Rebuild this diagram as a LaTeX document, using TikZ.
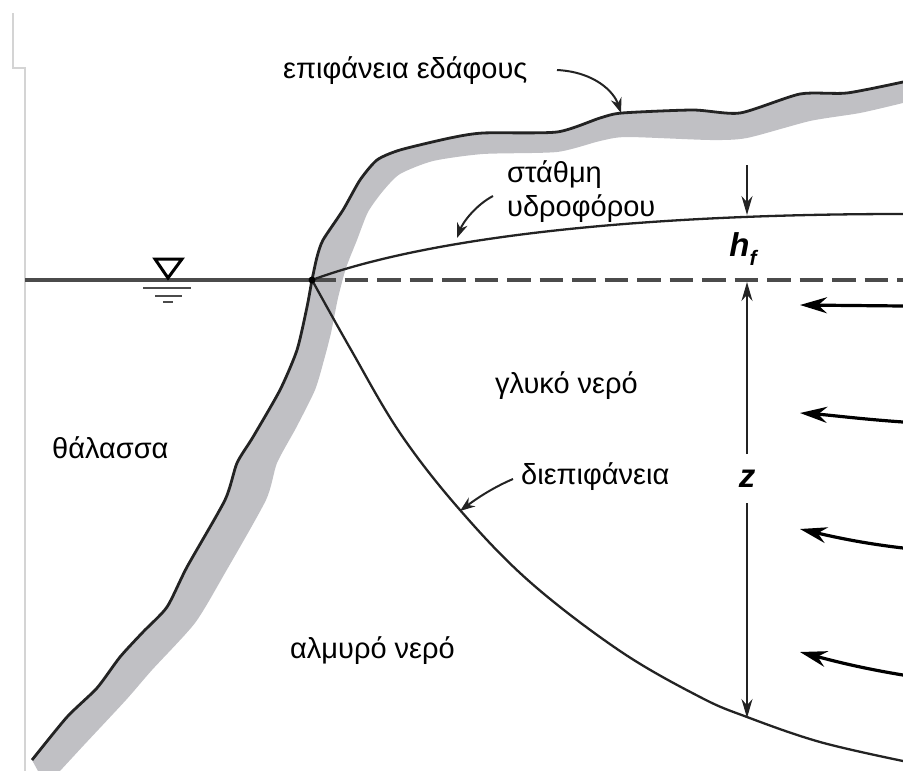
\documentclass[tikz,border=0pt]{standalone}
\usepackage{fontspec}
\setmainfont{Liberation Sans}
\usetikzlibrary{arrows.meta}
\definecolor{bandgray}{RGB}{192,192,196}
\definecolor{edgeblack}{RGB}{35,35,35}
\definecolor{seagray}{RGB}{75,75,75}
\definecolor{framegray}{RGB}{212,212,212}
\begin{document}
\begin{tikzpicture}[x=1pt,y=-1pt,
  lbl/.style={font=\fontsize{29}{34}\selectfont, inner sep=0pt, anchor=base west},
  sym/.style={font=\fontsize{33}{36}\selectfont\bfseries\itshape, inner sep=0pt},
  callout/.style={draw=edgeblack, line width=2pt, -{Stealth[length=15pt,width=11pt]}},
  flow/.style={draw=black, line width=3.2pt, -{Stealth[length=27pt,width=16pt]}},
  dim/.style={draw=edgeblack, line width=1.7pt, -{Stealth[length=19pt,width=11pt]}},
  sealine/.style={draw=seagray, line width=3.4pt},
  frameline/.style={draw=framegray, line width=1.3pt}]
\useasboundingbox (0,0) rectangle (903,771);

% thin frame remnants on the left
\draw[frameline] (13,13) -- (13,68) -- (25,68) -- (25,771);

% ground band with its dark upper edge
\fill[bandgray] plot[smooth, tension=0.4] coordinates {(32,760) (67,717) (97,688) (120,657) (143,632) (167,607) (187,567) (225,500) (237,463) (253,437) (280,390) (297,350) (307,307) (312,280) (317,257) (323,240) (343,210) (360,180) (377,160) (400,150) (450,138) (483,133) (557,132) (600,118) (622,113) (693,110) (740,113) (800,94) (847,93) (903,82)}
  -- plot[smooth, tension=0.4] coordinates {(903,103) (860,113) (810,121) (747,138) (710,140) (627,137) (600,141) (557,152) (483,154) (433,161) (400,174) (383,191) (368,212) (357,240) (346,268) (338,298) (331,333) (324,360) (315,390) (296,428) (277,463) (266,500) (225,573) (195,623) (152,670) (126,700) (84,745) (60,771)} -- (38,771) -- cycle;
\draw[edgeblack, line width=2.8pt, line join=round] plot[smooth, tension=0.4] coordinates {(32,760) (67,717) (97,688) (120,657) (143,632) (167,607) (187,567) (225,500) (237,463) (253,437) (280,390) (297,350) (307,307) (312,280) (317,257) (323,240) (343,210) (360,180) (377,160) (400,150) (450,138) (483,133) (557,132) (600,118) (622,113) (693,110) (740,113) (800,94) (847,93) (903,82)};

% sea level and its landward continuation
\coordinate (J) at (312,280);
\coordinate (seaL) at (25,280);
\coordinate (seaR) at (903,280);
\draw[sealine] (seaL) -- (J);
\draw[sealine, dash pattern=on 23.5pt off 9pt] (J) -- (seaR);

% water level symbol
\draw[black, line width=3pt, line join=miter] (155,259) -- (182,259) -- (168,278) -- cycle;
\draw[seagray, line width=1.6pt] (143,288) -- (191,288);
\draw[seagray, line width=1.6pt] (155,296) -- (182,296);
\draw[seagray, line width=1.6pt] (163,302) -- (173,302);

% water table
\draw[edgeblack, line width=2.3pt] (J) .. controls (420,240) and (620,214) .. (903,214);

% fresh/salt water interface
\draw[edgeblack, line width=2.3pt] plot[smooth, tension=0.6] coordinates {(312,280) (350,348) (400,433) (460,510) (530,582) (620,651) (700,697) (747,717) (820,742) (903,761)};

\fill[black] (J) circle (3.5pt);

% labels
\node[lbl] (surf) at (283,78) {επιφάνεια εδάφους};
\node[lbl] (wt1) at (507,182) {στάθμη};
\node[lbl] (wt2) at (507,216) {υδροφόρου};
\node[lbl] (fresh) at (495,393) {γλυκό νερό};
\node[lbl] (sea) at (52,458) {θάλασσα};
\node[lbl] (iface) at (521,484) {διεπιφάνεια};
\node[lbl] (salt) at (290,658) {αλμυρό νερό};

% callout arrows
\coordinate (surfT) at (557,70);
\coordinate (surfH) at (621,113);
\draw[callout] (surfT) .. controls (595,72) and (614,92) .. (surfH);
\coordinate (wtT) at (493,196);
\coordinate (wtH) at (457,238);
\draw[callout] (wtT) .. controls (476,205) and (463,222) .. (wtH);
\coordinate (ifT) at (513,479);
\coordinate (ifH) at (460,511);
\draw[callout] (ifT) .. controls (492,488) and (476,499) .. (ifH);

% dimension marks h_f and z
\node[sym] (hf) at (743,249) {h\raisebox{-0.28em}{\fontsize{21}{23}\selectfont f}};
\node[sym] (zz) at (747,479) {z};
\coordinate (hfTop) at (747,165);
\coordinate (hfBot) at (747,215);
\coordinate (zTop) at (747,282);
\coordinate (zBot) at (747,718);
\draw[dim] (hfTop) -- (hfBot);
\draw[dim] (zz.north |- 0,454) -- (zTop);
\draw[dim] (zz.south |- 0,503) -- (zBot);

% fresh groundwater flow toward the sea
\coordinate (f1a) at (903,306); \coordinate (f1b) at (800,305);
\coordinate (f2a) at (903,422); \coordinate (f2b) at (800,413);
\coordinate (f3a) at (903,548); \coordinate (f3b) at (800,529);
\coordinate (f4a) at (903,675); \coordinate (f4b) at (800,652);
\draw[flow] (f1a) -- (f1b);
\draw[flow] (f2a) .. controls (860,419) and (830,415) .. (f2b);
\draw[flow] (f3a) .. controls (860,543) and (830,536) .. (f3b);
\draw[flow] (f4a) .. controls (860,668) and (830,660) .. (f4b);
\end{tikzpicture}
\end{document}
